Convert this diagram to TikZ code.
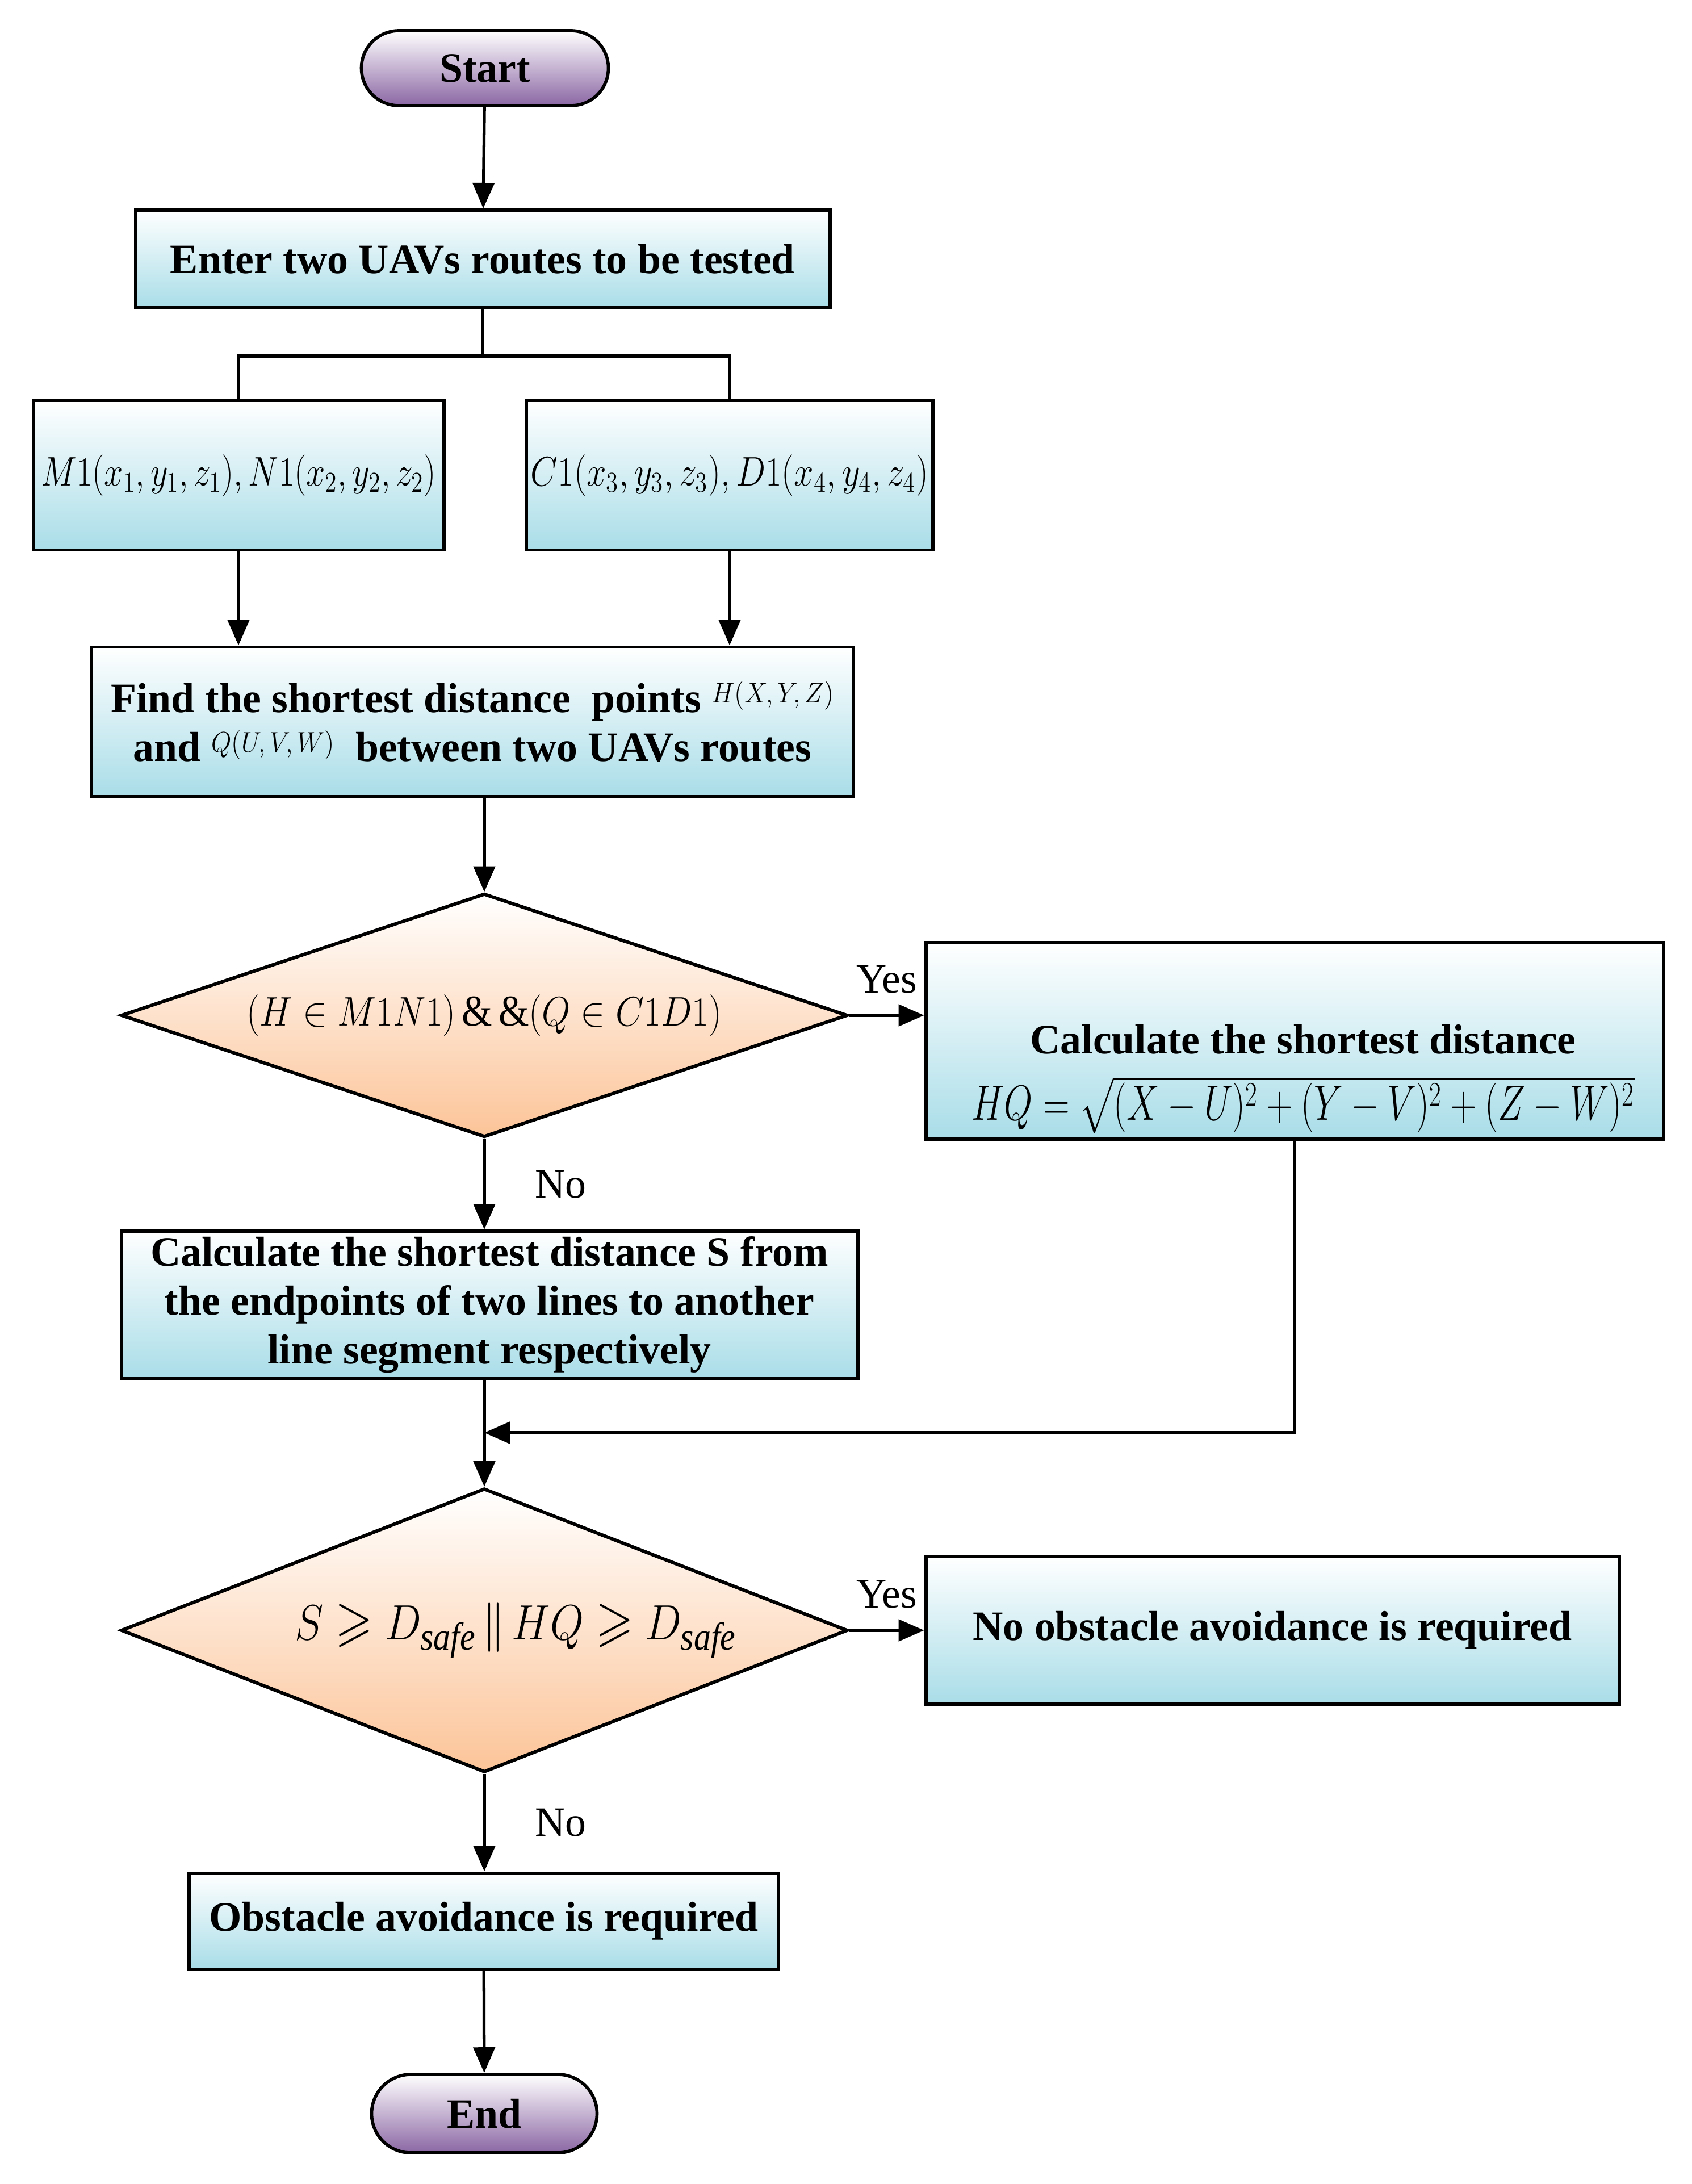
\documentclass[tikz,border=0pt]{standalone}
\usepackage{amsmath, amssymb}
\usepackage{graphicx}
\usepackage{fontspec}
\setmainfont{Liberation Serif}
\usetikzlibrary{
  arrows.meta,
  positioning,
  shapes.geometric,
  shapes.misc,
  calc,
}
\definecolor{boxcyan}{HTML}{A9DDE8}
\definecolor{decpeach}{HTML}{FCC498}
\definecolor{termpurple}{HTML}{8B67A4}
% narrow maths, as in the drawing
\newcommand{\nmath}[2]{\scalebox{#1}[1]{$#2$}}

\begin{document}
\begin{tikzpicture}[
    terminal/.style={rounded rectangle, draw=black, line width=1.6pt,
                     top color=white, bottom color=termpurple, inner sep=0pt,
                     font=\fontsize{21}{25}\selectfont\bfseries},
    process/.style={rectangle, draw=black, line width=1.7pt,
                    top color=white, bottom color=boxcyan, inner sep=0pt,
                    align=center, font=\fontsize{21}{24.5}\selectfont\bfseries},
    decision/.style={diamond, draw=black, line width=1.7pt,
                     top color=white, bottom color=decpeach, inner sep=0pt},
    link/.style={draw=black, line width=1.5pt},
    flow/.style={link, -{Triangle[length=4.5mm, width=3.8mm]}},
    lbl/.style={font=\fontsize{21}{25}\selectfont},
  ]
  \useasboundingbox (0,0) rectangle (29.79,-38.46);

  \node[terminal, minimum width=4.35cm, minimum height=1.32cm] (start) at (8.54,-1.20) {Start};
  \node[process, minimum width=12.23cm, minimum height=1.72cm] (enter) at (8.50,-4.56)
    {Enter two UAVs routes to be tested};
  \node[process, minimum width=7.23cm, minimum height=2.63cm, font=\fontsize{22}{26}\selectfont] (m1) at (4.20,-8.37)
    {\nmath{0.82}{M1(x_1,y_1,z_1),N1(x_2,y_2,z_2)}};
  \node[process, minimum width=7.16cm, minimum height=2.63cm, font=\fontsize{22}{26}\selectfont] (c1) at (12.85,-8.37)
    {\nmath{0.85}{C1(x_3,y_3,z_3),D1(x_4,y_4,z_4)}};
  \node[process, minimum width=13.41cm, minimum height=2.63cm] (find) at (8.32,-12.71)
    {Find the shortest distance \ points \raisebox{0.5ex}{\fontsize{14}{16}\selectfont\nmath{0.9}{H(X,Y,Z)}}\\
     and \raisebox{0.5ex}{\fontsize{14}{16}\selectfont\nmath{0.9}{Q(U,V,W)}} \ between two UAVs routes};
  \node[decision, minimum width=12.80cm, minimum height=4.29cm, aspect=2.98, font=\fontsize{22}{26}\selectfont] (cond1) at (8.53,-17.88)
    {\nmath{0.89}{(H\in M1N1)\,\&\,\&(Q\in C1D1)}};
  \node[process, minimum width=12.99cm, minimum height=3.46cm] (calchq) at (22.80,-18.33)
    {\rule{0pt}{1.85cm}\hspace*{0.3cm}Calculate the shortest distance\\[9pt]
     \hspace*{0.3cm}\mdseries\fontsize{23}{26}\selectfont\nmath{0.74}{HQ=\sqrt{(X-U)^2+(Y-V)^2+(Z-W)^2}}};
  \node[process, minimum width=12.97cm, minimum height=2.60cm] (calcs) at (8.62,-22.98)
    {Calculate the shortest distance S from\\
     the endpoints of two lines to another\\
     line segment respectively};
  \coordinate (merge) at (8.53,-25.23);
  \node[decision, minimum width=12.80cm, minimum height=5.00cm, aspect=2.56, font=\fontsize{28}{32}\selectfont] (cond2) at (8.53,-28.71)
    {\hspace*{1.1cm}\nmath{0.87}{S\geqslant D_{\mathit{safe}}\,\|\,HQ\geqslant D_{\mathit{safe}}}};
  \node[process, minimum width=12.21cm, minimum height=2.60cm] (noavoid) at (22.41,-28.71)
    {No obstacle avoidance is required};
  \node[process, minimum width=10.38cm, minimum height=1.69cm] (avoid) at (8.52,-33.83)
    {Obstacle avoidance is required};
  \node[terminal, minimum width=3.97cm, minimum height=1.38cm] (end) at (8.53,-37.22) {End};

  % split into the two routes
  \draw[flow] (start) -- (enter);
  \draw[link] (enter.south) -- ++(0,-0.82) coordinate (split);
  \draw[link] (m1.north) |- (split) -| (c1.north);
  \draw[flow] (m1.south) -- (m1.south |- find.north);
  \draw[flow] (c1.south) -- (c1.south |- find.north);
  \draw[flow] (find.south -| cond1.north) -- (cond1.north);

  \draw[flow] (cond1.east) -- (cond1.east -| calchq.west) node[lbl, midway, above=7pt] {Yes};
  \draw[flow] (cond1.south) -- (calcs.north -| cond1.south) node[lbl, midway, right=0.75cm] {No};
  \draw[flow] (calchq.south) |- (merge);
  \draw[flow] (calcs.south -| cond2.north) -- (cond2.north);

  \draw[flow] (cond2.east) -- (noavoid.west) node[lbl, midway, above=7pt] {Yes};
  \draw[flow] (cond2.south) -- (avoid.north -| cond2.south) node[lbl, midway, right=0.75cm] {No};
  \draw[flow] (avoid) -- (end);
\end{tikzpicture}
\end{document}
